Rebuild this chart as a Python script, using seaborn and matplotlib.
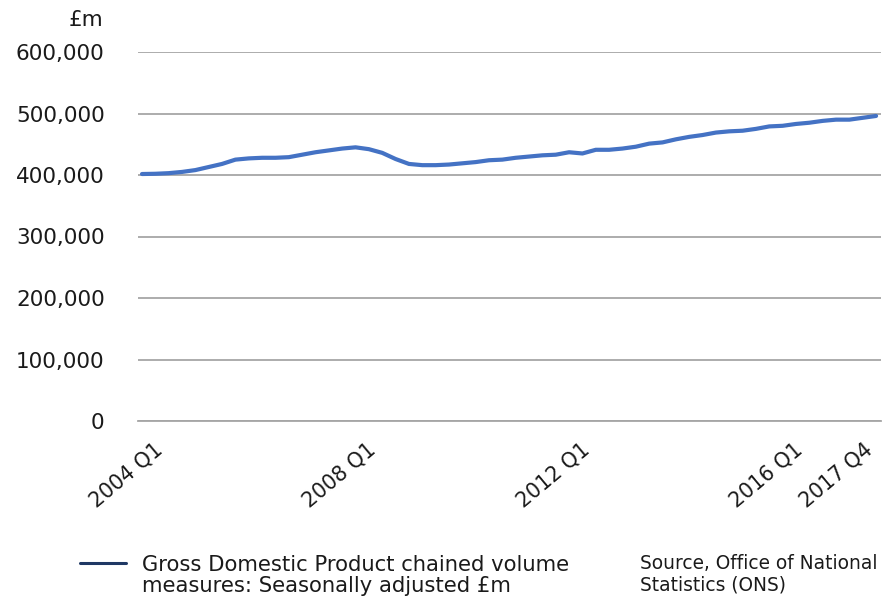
import numpy as np
import pandas as pd
import matplotlib
matplotlib.use("Agg")
import matplotlib.pyplot as plt
from matplotlib.lines import Line2D
from matplotlib.ticker import FuncFormatter
import seaborn as sns

# Quarterly GDP, chained volume measures, seasonally adjusted (GBP m)
quarters = [f"{y} Q{q}" for y in range(2004, 2018) for q in range(1, 5)]
gdp = [401600, 402000, 403000, 405000, 408000, 413000, 418000, 425000,
       427000, 428000, 428000, 429000, 433000, 437000, 440000, 443000,
       445000, 442000, 436000, 426000, 418000, 416000, 416000, 417000,
       419000, 421000, 424000, 425000, 428000, 430000, 432000, 433000,
       437000, 435000, 441000, 441000, 443000, 446000, 451000, 453000,
       458000, 462000, 465000, 469000, 471000, 472000, 475000, 479000,
       480000, 483000, 485000, 488000, 490000, 490000, 493000, 496000]
shown_labels = ["2004 Q1", "2008 Q1", "2012 Q1", "2016 Q1", "2017 Q4"]
y_ticks = [0, 100000, 200000, 300000, 400000, 500000, 600000]

df = pd.DataFrame({"quarter": quarters, "gdp": gdp})
df["idx"] = np.arange(len(df))

sns.set_style("white")
plt.rcParams["font.family"] = ["DejaVu Sans"]

fig = plt.figure(figsize=(8.93, 5.98), dpi=100)
ax = fig.add_axes([138 / 893, 1 - 421 / 598, (881 - 138) / 893, (421 - 52) / 598])

sns.lineplot(data=df, x="idx", y="gdp", ax=ax, color="#4472C4", linewidth=3)

grey = "#a6a6a6"
text_col = "#1a1a1a"
ax.set_ylim(0, 600000)
ax.set_xlim(-0.3, len(df) - 1 + 0.37)
ax.set_yticks(y_ticks)
ax.yaxis.set_major_formatter(FuncFormatter(lambda v, p: f"{int(v):,}"))
ax.tick_params(axis="y", length=0, pad=24, labelsize=15.5, labelcolor=text_col)
ax.grid(axis="y", color=grey, linewidth=1.3)
ax.set_axisbelow(True)

# labels on major ticks (no marks), tick marks every four quarters on minor ticks
ax.xaxis.remove_overlapping_locs = False
label_pos = [quarters.index(q) + 1.6 for q in shown_labels[:-1]] + [54.8]
ax.set_xticks(label_pos)
ax.set_xticklabels(shown_labels, rotation=40, ha="right", va="baseline",
                   rotation_mode="anchor", fontsize=14.8, color=text_col)
ax.tick_params(axis="x", which="major", length=0, pad=22)
ax.set_xticks(list(np.arange(1.6, len(df), 4)) + [len(df) - 1 + 0.37], minor=True)
ax.tick_params(axis="x", which="minor", direction="out", length=6, width=1.2, color=grey)

for s in ["top", "right", "left"]:
    ax.spines[s].set_visible(False)
ax.spines["bottom"].set_color(grey)
ax.spines["bottom"].set_linewidth(1.3)
ax.set_xlabel("")
ax.set_ylabel("")

fig.text(103 / 893, 1 - 20 / 598, "£m", ha="right", va="center", fontsize=15.5, color=text_col)

# legend key and text
fig.add_artist(Line2D([80 / 893, 126 / 893], [1 - 563 / 598, 1 - 563 / 598],
                      transform=fig.transFigure, color="#1F3864", linewidth=2.2))
fig.text(142 / 893, 1 - 555 / 598,
         "Gross Domestic Product chained volume\nmeasures: Seasonally adjusted £m",
         ha="left", va="top", fontsize=15.2, color=text_col, linespacing=1.08)
fig.text(640 / 893, 1 - 554 / 598, "Source, Office of National\nStatistics (ONS)",
         ha="left", va="top", fontsize=13.4, color=text_col, linespacing=1.15)

fig.savefig("out.png", dpi=100)
